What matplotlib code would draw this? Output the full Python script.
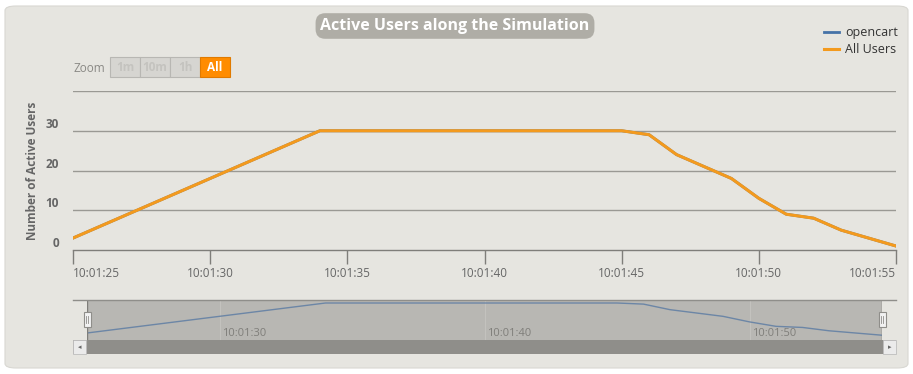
import matplotlib
matplotlib.use("Agg")
import matplotlib.pyplot as plt
from matplotlib.patches import FancyBboxPatch, Rectangle
from matplotlib.lines import Line2D
import pandas as pd

# data (one sample per second)
times = ["10:01:25", "10:01:26", "10:01:27", "10:01:28", "10:01:29", "10:01:30",
         "10:01:31", "10:01:32", "10:01:33", "10:01:34", "10:01:35", "10:01:36",
         "10:01:37", "10:01:38", "10:01:39", "10:01:40", "10:01:41", "10:01:42",
         "10:01:43", "10:01:44", "10:01:45", "10:01:46", "10:01:47", "10:01:48",
         "10:01:49", "10:01:50", "10:01:51", "10:01:52", "10:01:53", "10:01:54",
         "10:01:55"]
opencart = [3, 6, 9, 12, 15, 18, 21, 24, 27, 30, 30, 30, 30, 30, 30, 30,
            30, 30, 30, 30, 30, 29, 24, 21, 18, 13, 9, 8, 5, 3, 1]
all_users = [3, 6, 9, 12, 15, 18, 21, 24, 27, 30, 30, 30, 30, 30, 30, 30,
             30, 30, 30, 30, 30, 29, 24, 21, 18, 13, 9, 8, 5, 3, 1]
y_ticks = [0, 10, 20, 30]
x_tick_labels = ["10:01:25", "10:01:30", "10:01:35", "10:01:40",
                 "10:01:45", "10:01:50", "10:01:55"]
nav_tick_labels = ["10:01:30", "10:01:40", "10:01:50"]
zoom_buttons = ["1m", "10m", "1h", "All"]

W, H = 913, 374
BG = "#e6e5e0"
GRID = "#9a9994"
TXT = "#666666"
ORANGE = "#f39a1e"
BLUE = "#4572a7"

plt.rcParams['font.family'] = ['Open Sans', 'DejaVu Sans']

t = pd.to_datetime(times, format="%H:%M:%S")
secs = [(x - t[0]).total_seconds() for x in t]
tick_secs = [(pd.to_datetime(s, format="%H:%M:%S") - t[0]).total_seconds() for s in x_tick_labels]
nav_secs = [(pd.to_datetime(s, format="%H:%M:%S") - t[0]).total_seconds() for s in nav_tick_labels]


def px_axes(fig, left, top, right, bottom):
    return fig.add_axes([left / W, 1 - bottom / H, (right - left) / W, (bottom - top) / H])


fig = plt.figure(figsize=(W / 100, H / 100), dpi=100, facecolor="white")

# rounded chart panel, behind everything
panel = FancyBboxPatch((5 / W, 6 / H), 903 / W, 362 / H,
                       boxstyle="round,pad=0,rounding_size=0.012",
                       transform=fig.transFigure, facecolor=BG, edgecolor="#d8d7d2",
                       linewidth=0.8, zorder=-5)
fig.patches.append(panel)

# main plot
ax = px_axes(fig, 73, 91, 896, 250)
ax.set_facecolor("none")
ax.plot(secs, opencart, color=BLUE, lw=2, label="opencart")
ax.plot(secs, all_users, color=ORANGE, lw=2.2, label="All Users")
ax.set_xlim(secs[0], secs[-1])
ax.set_ylim(0, 40)
for v in y_ticks[1:] + [40]:
    ax.axhline(v, color=GRID, lw=1, zorder=0)
for s in ["top", "right", "left"]:
    ax.spines[s].set_visible(False)
ax.spines["bottom"].set_color("#7f7e7a")
ax.spines["bottom"].set_linewidth(1)
ax.set_yticks(y_ticks)
ax.set_yticklabels([str(v) for v in y_ticks], fontsize=8.5, fontweight="bold", color=TXT)
ax.tick_params(axis="y", length=0, pad=10)
for lab in ax.get_yticklabels():
    lab.set_verticalalignment("bottom")
ax.set_xticks(tick_secs)
ax.set_xticklabels(x_tick_labels, fontsize=8.5, color=TXT)
ax.tick_params(axis="x", length=10, width=1, color="#7f7e7a", direction="out", pad=2)
xlabs = ax.get_xticklabels()
xlabs[0].set_horizontalalignment("left")
xlabs[-1].set_horizontalalignment("right")
ax.set_ylabel("Number of Active Users", fontsize=8.5, fontweight="bold", color=TXT)
ax.yaxis.set_label_coords((39 - 73) / 823, 0.5)

# legend
ax.legend(loc="upper right", bbox_to_anchor=((909 - 73) / 823, (91 - 15) / 159 + 1),
          frameon=False, fontsize=9, handlelength=1.2, handletextpad=0.5,
          labelspacing=0.3, labelcolor="#333333")

# title
fig.text(455 / W, 1 - 26 / H, "Active Users along the Simulation", ha="center", va="center",
         fontsize=11.5, fontweight="bold", color="white",
         bbox=dict(boxstyle="round,pad=0.3,rounding_size=0.6", facecolor="#afada6",
                   edgecolor="none"))

# zoom buttons
fig.text(73 / W, 1 - 68 / H, "Zoom", fontsize=8.5, color="#8a8985", va="center", ha="left")
bx = 110
for i, name in enumerate(zoom_buttons):
    active = name == "All"
    fig.patches.append(Rectangle((bx / W, 1 - 77 / H), 30 / W, 20 / H, transform=fig.transFigure,
                                 facecolor="#ff8c00" if active else "#d6d5d1",
                                 edgecolor="#e07a00" if active else "#b8b7b3", lw=0.8))
    fig.text((bx + 15) / W, 1 - 67.5 / H, name, fontsize=8.5, fontweight="bold",
             color="white" if active else "#c4c3bf", ha="center", va="center")
    bx += 30

# navigator
nav = px_axes(fig, 87, 300, 882, 340)
nav.set_facecolor("#b8b7b3")
nav.plot(secs, all_users, color="#6c86a6", lw=1)
nav.set_xlim(secs[0], secs[-1])
nav.set_ylim(-3.3, 32.7)
nav.set_yticks([])
nav.set_xticks(nav_secs)
for s in nav_secs:
    nav.axvline(s, color="#c3c2be", lw=0.8, zorder=0)
nav.set_xticklabels([])
nav.tick_params(axis="x", length=0)
for s, lab in zip(nav_secs, nav_tick_labels):
    nav.text(s + 0.1, -2.5, lab, fontsize=8, color="#7f7e7a", ha="left", va="bottom")
for s in nav.spines.values():
    s.set_visible(False)
nav.axvline(secs[0], color="#7f7e7a", lw=1)
nav.axvline(secs[-1], color="#7f7e7a", lw=1)

# navigator outline, handles and scrollbar
fig.lines.append(Line2D([73 / W, 896 / W], [1 - 300 / H, 1 - 300 / H], transform=fig.transFigure,
                        color="#8f8e8a", lw=1))
for hx in (87, 882):
    fig.patches.append(Rectangle(((hx - 3.5) / W, 1 - 327 / H), 7 / W, 15 / H,
                                 transform=fig.transFigure, facecolor="#f2f2f2",
                                 edgecolor="#8f8e8a", lw=0.8, zorder=5))
    fig.lines.append(Line2D([(hx - 1) / W, (hx - 1) / W], [1 - 323 / H, 1 - 316 / H],
                            transform=fig.transFigure, color="#8f8e8a", lw=0.6, zorder=6))
    fig.lines.append(Line2D([(hx + 1) / W, (hx + 1) / W], [1 - 323 / H, 1 - 316 / H],
                            transform=fig.transFigure, color="#8f8e8a", lw=0.6, zorder=6))
fig.patches.append(Rectangle((73 / W, 1 - 354 / H), 823 / W, 14 / H, transform=fig.transFigure,
                             facecolor="#8f8e8a", edgecolor="none"))
for ax0, arrow in ((73, "◂"), (883, "▸")):
    fig.patches.append(Rectangle((ax0 / W, 1 - 354 / H), 13 / W, 14 / H, transform=fig.transFigure,
                                 facecolor="#ebebeb", edgecolor="#bdbdbd", lw=0.6, zorder=5))
    fig.text((ax0 + 6.5) / W, 1 - 347 / H, arrow, fontsize=5, color="#666666",
             ha="center", va="center", zorder=6, family="DejaVu Sans")

fig.savefig("out.png", dpi=100, facecolor="white")
